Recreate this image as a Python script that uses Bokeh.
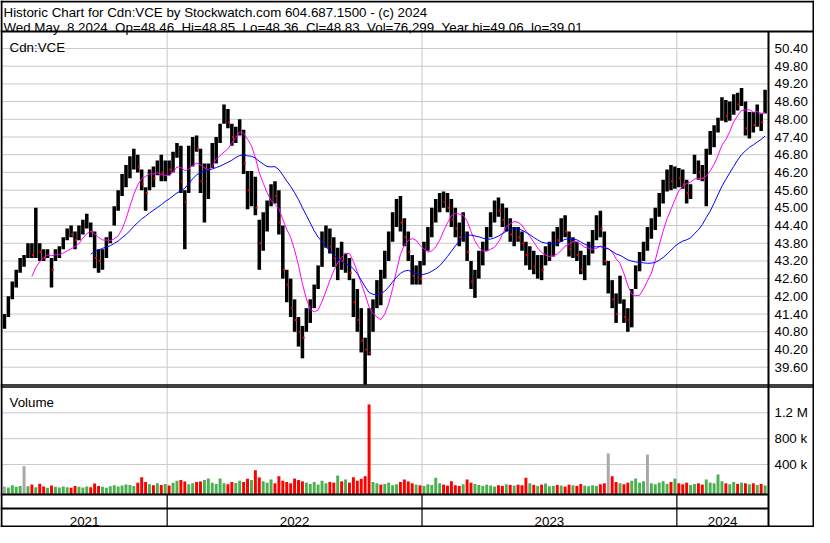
import numpy as np
import pandas as pd
from bokeh.plotting import figure
from bokeh.models import Range1d
from bokeh.core.properties import value
from bokeh.embed import file_html
from bokeh.resources import INLINE

# ---------------- data ----------------
symbol = "Cdn:VCE"
header_line1 = "Historic Chart for Cdn:VCE by Stockwatch.com 604.687.1500 - (c) 2024"
header_line2 = ("Wed May \u00a08 2024 \u00a0Op=48.46 \u00a0Hi=48.85 \u00a0Lo=48.36 \u00a0Cl=48.83"
                " \u00a0Vol=76,299 \u00a0Year hi=49.06 \u00a0lo=39.01")
volume_title = "Volume"
first_day = "2021-05-12"
last_day = "2024-05-08"
days_per_bar = 4          # each bar below summarises 4 trading days

low = [
    40.9, 41.3, 41.9, 42.3, 42.8, 43.0, 43.3, 43.3, 43.3, 43.2,
    43.2, 43.3, 42.3, 43.2, 43.3, 43.6, 43.9, 44.0, 43.6, 43.9,
    44.1, 44.3, 44.0, 42.95, 42.8, 42.9, 43.3, 43.8, 44.4, 44.9,
    45.4, 45.7, 46.0, 46.3, 46.2, 45.6, 44.9, 45.6, 45.7, 46.1,
    45.9, 45.9, 46.1, 46.2, 46.7, 45.5, 43.6, 45.5, 46.4, 46.9,
    45.5, 44.5, 45.3, 46.35, 46.5, 47.2, 47.85, 47.7, 47.1, 47.2,
    47.45, 46.15, 44.95, 45.05, 44.75, 42.9, 43.55, 44.2, 45.05, 45.15,
    44.1, 42.6, 41.8, 41.3, 40.8, 40.3, 39.9, 40.8, 41.1, 41.6,
    42.25, 43.0, 43.65, 43.45, 43.0, 42.55, 42.9, 42.8, 42.55, 41.3,
    40.8, 40.1, 39.01, 40.0, 40.8, 41.6, 41.7, 42.6, 43.2, 43.85,
    44.35, 44.2, 43.7, 43.2, 42.4, 42.4, 42.4, 43.05, 43.55, 44.0,
    44.5, 44.85, 45.0, 44.85, 44.35, 44.0, 43.7, 43.85, 43.2, 42.25,
    41.95, 42.6, 43.05, 43.55, 44.0, 44.5, 44.7, 44.35, 44.2, 43.85,
    43.7, 43.85, 43.55, 43.05, 42.9, 42.75, 42.6, 42.55, 43.05, 43.2,
    43.35, 43.7, 43.85, 44.0, 43.35, 43.3, 43.2, 42.75, 42.55, 43.05,
    43.45, 43.9, 44.0, 43.05, 42.1, 41.6, 41.1, 41.75, 41.1, 40.8,
    40.95, 42.25, 42.85, 43.2, 43.55, 43.95, 44.25, 44.7, 45.15, 45.55,
    45.6, 45.65, 45.7, 45.65, 45.15, 45.3, 46.15, 45.95, 45.9, 45.05,
    46.8, 47.05, 47.55, 47.95, 47.9, 47.95, 48.15, 48.3, 48.45, 47.45,
    47.35, 47.55, 47.75, 47.6, 48.2,
]
high = [
    41.4, 42.0, 42.5, 42.9, 43.3, 43.4, 43.8, 43.8, 45.0, 43.8,
    43.6, 43.6, 43.3, 43.6, 43.7, 44.0, 44.3, 44.4, 44.2, 44.4,
    44.6, 44.8, 44.5, 44.2, 43.6, 43.6, 44.0, 44.2, 45.05, 45.6,
    46.15, 46.45, 46.75, 47.0, 46.8, 46.3, 45.7, 46.3, 46.4, 46.6,
    46.8, 46.6, 46.6, 46.9, 47.2, 47.1, 45.6, 47.1, 47.4, 47.45,
    47.0, 46.5, 46.5, 47.2, 47.4, 47.85, 48.5, 48.35, 47.85, 47.75,
    48.0, 47.65, 46.25, 46.25, 46.05, 44.6, 44.85, 45.25, 45.8, 45.9,
    45.6, 44.4, 42.9, 42.6, 41.9, 41.3, 41.0, 41.6, 41.9, 42.4,
    43.05, 44.2, 44.4, 44.3, 44.0, 43.65, 43.85, 43.45, 43.3, 42.6,
    42.25, 41.6, 40.6, 41.6, 41.9, 42.55, 42.9, 43.55, 44.2, 44.85,
    45.3, 45.4, 44.65, 44.2, 43.4, 43.05, 43.2, 43.85, 44.35, 45.0,
    45.3, 45.5, 45.55, 45.5, 45.3, 45.0, 44.5, 44.85, 44.2, 43.2,
    42.9, 43.55, 43.85, 44.35, 44.85, 45.25, 45.35, 45.15, 45.0, 44.65,
    44.35, 44.35, 44.2, 43.85, 43.7, 43.55, 43.4, 43.4, 43.7, 43.85,
    44.2, 44.35, 44.65, 44.75, 44.2, 44.0, 43.85, 43.55, 43.4, 43.85,
    44.25, 44.75, 44.9, 44.2, 43.2, 42.55, 42.1, 42.7, 41.9, 41.6,
    42.25, 43.05, 43.5, 43.85, 44.35, 44.65, 45.0, 45.5, 45.95, 46.3,
    46.45, 46.4, 46.35, 46.3, 45.95, 45.8, 46.8, 46.6, 46.45, 47.0,
    47.6, 47.8, 48.05, 48.75, 48.65, 48.6, 48.85, 48.9, 49.06, 48.6,
    48.25, 48.25, 48.5, 48.2, 49.0,
]
close = [
    41.3, 41.9, 42.2, 42.8, 43.1, 43.1, 43.6, 43.4, 43.7, 43.5,
    43.3, 43.5, 42.9, 43.4, 43.6, 43.9, 44.2, 44.1, 43.9, 44.3,
    44.4, 44.6, 44.2, 43.3, 43.2, 43.4, 43.9, 44.1, 44.9, 45.4,
    46.0, 46.1, 46.6, 46.7, 46.4, 45.8, 45.5, 46.1, 46.0, 46.4,
    46.2, 46.4, 46.3, 46.8, 46.9, 45.9, 45.2, 46.8, 47.2, 47.0,
    45.9, 46.0, 46.2, 46.9, 47.2, 47.7, 48.2, 47.9, 47.4, 47.6,
    47.7, 46.5, 45.6, 45.9, 45.0, 43.8, 44.6, 45.0, 45.6, 45.4,
    44.5, 42.9, 42.4, 41.6, 41.2, 40.8, 40.6, 41.3, 41.7, 42.2,
    42.9, 43.9, 44.0, 43.7, 43.3, 43.4, 43.2, 43.3, 42.8, 41.8,
    41.2, 40.5, 40.2, 40.1, 41.5, 42.3, 42.1, 43.3, 44.0, 44.6,
    45.1, 44.5, 44.0, 43.5, 42.7, 42.8, 42.6, 43.7, 44.2, 44.8,
    45.1, 45.3, 45.2, 45.0, 44.6, 44.3, 44.0, 44.5, 43.5, 42.5,
    42.6, 43.3, 43.6, 44.2, 44.6, 45.0, 44.9, 44.6, 44.7, 44.1,
    44.2, 44.0, 43.8, 43.4, 43.5, 43.0, 43.1, 42.9, 43.5, 43.6,
    44.0, 43.9, 44.4, 44.2, 43.6, 43.7, 43.4, 42.9, 43.2, 43.7,
    44.0, 44.5, 44.3, 43.2, 43.2, 41.9, 41.4, 42.4, 41.3, 41.2,
    42.0, 42.8, 43.3, 43.6, 43.6, 44.5, 44.8, 45.3, 45.8, 46.1,
    45.9, 46.2, 46.0, 45.8, 45.5, 45.7, 46.6, 46.2, 46.0, 46.8,
    47.4, 47.6, 47.9, 48.5, 48.1, 48.4, 48.6, 48.5, 48.8, 47.7,
    48.0, 47.8, 48.3, 47.9, 48.83,
]
volume_k = [
    60, 45, 80, 55, 70, 375, 65, 90, 50, 105,
    60, 40, 75, 55, 45, 60, 50, 40, 70, 55,
    45, 60, 50, 107, 70, 55, 40, 65, 80, 60,
    75, 90, 85, 70, 120, 204, 130, 95, 80, 110,
    85, 100, 75, 120, 150, 160, 140, 95, 110, 130,
    138, 160, 184, 120, 100, 184, 110, 95, 130, 115,
    150, 130, 180, 160, 312, 200, 140, 120, 170, 110,
    220, 150, 130, 110, 184, 160, 140, 120, 100, 130,
    90, 150, 110, 130, 120, 230, 140, 170, 120, 204,
    150, 180, 220, 1330, 130, 110, 90, 100, 120, 80,
    95, 130, 169, 140, 110, 90, 80, 70, 95, 85,
    195, 110, 90, 75, 142, 80, 70, 95, 169, 120,
    100, 85, 70, 90, 75, 60, 80, 70, 95, 85,
    75, 90, 80, 195, 110, 85, 70, 90, 107, 65,
    70, 85, 75, 60, 90, 80, 70, 100, 75, 65,
    80, 70, 95, 110, 571, 220, 130, 110, 95, 120,
    150, 184, 120, 142, 555, 110, 95, 120, 142, 100,
    130, 184, 110, 95, 120, 85, 100, 110, 90, 169,
    120, 110, 246, 142, 110, 95, 130, 100, 120, 110,
    95, 110, 85, 100, 76,
]
ma_fast_bars = 8     # ~30 trading days
ma_slow_bars = 23    # ~92 trading days
price_ticks = [39.6, 40.2, 40.8, 41.4, 42.0, 42.6, 43.2, 43.8, 44.4, 45.0,
               45.6, 46.2, 46.8, 47.4, 48.0, 48.6, 49.2, 49.8, 50.4]
volume_ticks = [400000, 800000, 1200000]
volume_tick_labels = ["400 k", "800 k", "1.2 M"]

# ---------------- styling / layout (pixels, top-down) ----------------
FONT = value("Liberation Sans")
FS = value("10pt")
GRID = "#c8c8c8"
RED = "#ff0000"
GREEN = "#4caf50"
GRAY = "#a8a8a8"
W, H = 814, 527
PLOT_L, AXIS_X = 1.5, 768.0
HEAD_SEP = 31
PRICE_TOP, PRICE_BOT = 31, 385
VOL_TOP, VOL_BOT = 385, 494
AX_MID = 508
YEAR_BASE = 520.5
LABEL_X = 774
P_HI, P_LO = 50.975, 38.98          # price at PRICE_TOP / PRICE_BOT
V_HI, V_LO = 1623000.0, -63000.0    # volume at VOL_TOP / VOL_BOT

# ---------------- derived ----------------
dates = pd.bdate_range(first_day, last_day)
n_days = len(dates)
n = len(close)
c = np.array(close, dtype=float)
xs = np.arange(n) * days_per_bar + (days_per_bar - 1) / 2.0
prev = np.roll(c, 1)
prev[0] = np.nan
vol_color = np.where(c > prev, GREEN, np.where(c < prev, RED, GRAY))
down = c < prev
ma_fast = pd.Series(c).rolling(ma_fast_bars).mean().to_numpy()
ma_slow = pd.Series(c).rolling(ma_slow_bars).mean().to_numpy()
vol = np.array(volume_k, dtype=float) * 1000.0

years = sorted(set(dates.year))
year_first = [int(np.argmax(dates.year == y)) for y in years]
boundaries = [i - 0.5 for i in year_first[1:]]
edges = [-1.0] + boundaries + [float(n_days)]
year_centers = [(a + b) / 2.0 for a, b in zip(edges[:-1], edges[1:])]
year_labels = [str(y) for y in years]

px_per_day = (AXIS_X - PLOT_L) / (n_days + 1)
day_at = lambda q: -1 + (q - PLOT_L) / px_per_day
pk = (P_HI - P_LO) / (PRICE_BOT - PRICE_TOP)
vk = (V_HI - V_LO) / (VOL_BOT - VOL_TOP)

p = figure(width=W, height=H, x_range=Range1d(day_at(0), day_at(W)),
           y_range=Range1d(H, 0), x_axis_location=None, y_axis_location=None,
           toolbar_location=None, output_backend="svg", min_border=0)
p.extra_x_ranges = {"px": Range1d(0, W)}
p.extra_y_ranges = {
    "price": Range1d(P_HI - (H - PRICE_TOP) * pk, P_HI + PRICE_TOP * pk),
    "vol": Range1d(V_HI - (H - VOL_TOP) * vk, V_HI + VOL_TOP * vk),
}
p.xgrid.visible = False
p.ygrid.visible = False
p.outline_line_color = None
p.background_fill_color = "white"
p.border_fill_color = "white"

# grid lines
p.segment(x0=PLOT_L, x1=AXIS_X, y0=price_ticks, y1=price_ticks, x_range_name="px",
          y_range_name="price", line_color=GRID, line_width=1)
p.segment(x0=PLOT_L, x1=AXIS_X, y0=volume_ticks, y1=volume_ticks, x_range_name="px",
          y_range_name="vol", line_color=GRID, line_width=1)
p.segment(x0=boundaries, x1=boundaries, y0=PRICE_TOP, y1=PRICE_BOT, line_color=GRID, line_width=1)
p.segment(x0=boundaries, x1=boundaries, y0=VOL_TOP, y1=VOL_BOT, line_color=GRID, line_width=1)

# price bars, closes, moving averages
p.vbar(x=xs, width=3.6, bottom=low, top=high, y_range_name="price",
       fill_color="black", line_color=None)
p.scatter(x=xs[down] + 1.2, y=c[down], y_range_name="price", marker="square", size=2,
          fill_color=RED, line_color=None)
p.line(x=xs, y=ma_fast, y_range_name="price", line_color="#ff00ff", line_width=1)
p.line(x=xs, y=ma_slow, y_range_name="price", line_color="#0000ff", line_width=1)

# volume bars
p.vbar(x=xs, width=3, bottom=V_LO, top=vol, y_range_name="vol",
       fill_color=list(vol_color), line_color=None)

# frame lines
p.segment(x0=[0, 0, 0, 0, 0], x1=[W, W, W, AXIS_X, AXIS_X],
          y0=[1, HEAD_SEP, H - 1, VOL_BOT, AX_MID], y1=[1, HEAD_SEP, H - 1, VOL_BOT, AX_MID],
          x_range_name="px", line_color="black", line_width=2)
p.segment(x0=[1, W - 1, AXIS_X], x1=[1, W - 1, AXIS_X], y0=[0, 0, HEAD_SEP], y1=[H, H, H],
          x_range_name="px", line_color="black", line_width=2)
p.segment(x0=0, x1=W, y0=[PRICE_BOT - 0.5, PRICE_BOT + 1.5], y1=[PRICE_BOT - 0.5, PRICE_BOT + 1.5],
          x_range_name="px", line_color="black", line_width=1.3)
p.segment(x0=boundaries, x1=boundaries, y0=VOL_BOT, y1=H, line_color="black", line_width=1.2)

# texts
p.text(x=[3, 3], y=[11.5, 26.5], text=[header_line1, header_line2], x_range_name="px",
       text_font=FONT, text_font_size=FS, text_baseline="alphabetic", text_color="black")
p.text(x=[9, 9], y=[46.7, 402.3], text=[symbol, volume_title], x_range_name="px",
       text_font=FONT, text_font_size=FS, text_baseline="alphabetic", text_color="black")
p.text(x=LABEL_X, y=price_ticks, text=["%.2f" % t for t in price_ticks], x_range_name="px",
       y_range_name="price", text_font=FONT, text_font_size=FS, text_baseline="middle",
       text_color="black")
p.text(x=LABEL_X, y=volume_ticks, text=volume_tick_labels, x_range_name="px",
       y_range_name="vol", text_font=FONT, text_font_size=FS, text_baseline="middle",
       text_color="black")
p.text(x=year_centers, y=YEAR_BASE, text=year_labels, text_align="center",
       text_baseline="alphabetic", text_font=FONT, text_font_size=FS, text_color="black")

open("out.html", "w").write(file_html(p, INLINE))
